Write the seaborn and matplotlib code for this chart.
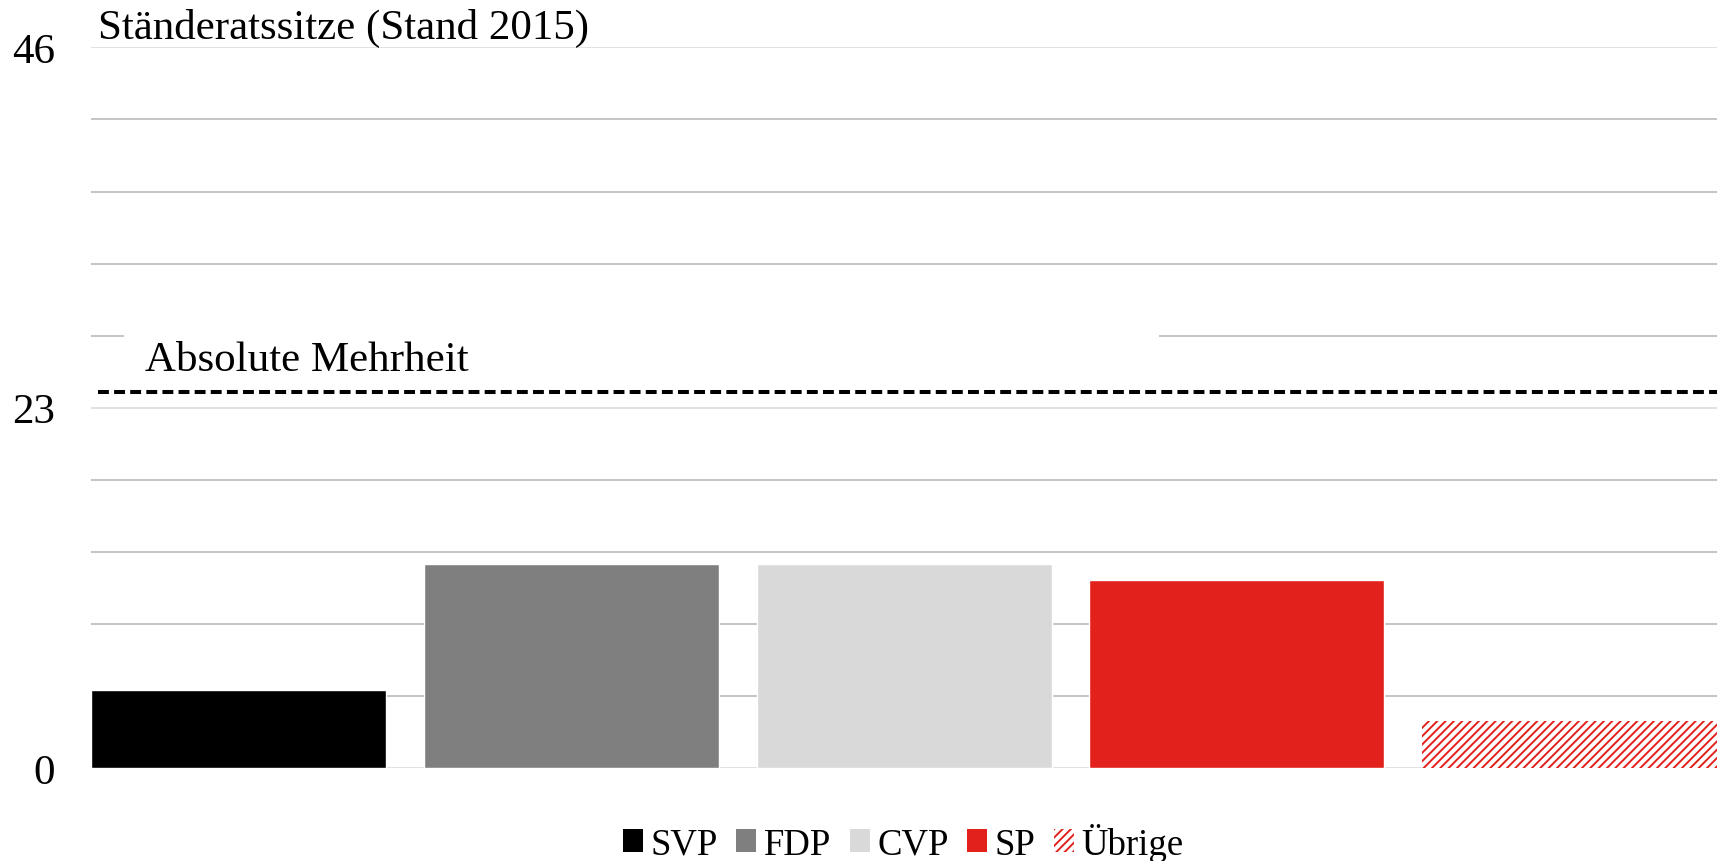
import matplotlib
matplotlib.use("Agg")
import matplotlib.pyplot as plt
import matplotlib.transforms as mtransforms
from matplotlib.patches import Rectangle, Patch
import seaborn as sns
import numpy as np
import pandas as pd

# ---- data ----
parties = ["SVP", "FDP", "CVP", "SP", "Übrige"]
seats = [5, 13, 13, 12, 3]
colors = ["#000000", "#7f7f7f", "#d9d9d9", "#e2211c", "#e2211c"]
total_seats = 46
majority = 24
tick_values = [0, 23, 46]
title_text = "Ständeratssitze (Stand 2015)"
majority_label = "Absolute Mehrheit"

sns.set_theme(style="white")
plt.rcParams["font.family"] = ["Liberation Serif", "DejaVu Serif"]
plt.rcParams["text.color"] = "black"
plt.rcParams["ytick.color"] = "black"
plt.rcParams["ytick.labelcolor"] = "black"
plt.rcParams["hatch.linewidth"] = 1.4

fig = plt.figure(figsize=(17.25, 8.62), dpi=100)
ax = fig.add_axes([0.0528, 0.1079, 0.9426, 0.8359])

df = pd.DataFrame({"party": parties, "seats": seats})
bar_w = 0.887
sns.barplot(data=df, x="party", y="seats", hue="party", palette=colors,
            width=bar_w, legend=False, ax=ax, zorder=3, saturation=1)

# hatched "Übrige"
last = ax.patches[-1]
last.set_facecolor("white")
last.set_hatch("////")
last.set_edgecolor(colors[-1])
last.set_linewidth(0)

ax.set_xlim(-bar_w / 2, len(parties) - 1 + bar_w / 2)
ax.set_ylim(0, total_seats)

# gridlines
ax.set_yticks(tick_values)
minor = [total_seats / 10 * i for i in range(1, 10) if i != 5]
ax.set_yticks(minor, minor=True)
ax.set_axisbelow(True)
ax.grid(axis="y", which="major", color="#d9d9d9", linewidth=1.1)
ax.grid(axis="y", which="minor", color="#b4b4b4", linewidth=1.1)
ax.tick_params(axis="y", which="both", length=0, labelsize=31, pad=26,
               labelcolor="black")
ax.tick_params(axis="x", length=0, labelbottom=False)
ax.set_xlabel("")
ax.set_ylabel("")
for s in ax.spines.values():
    s.set_visible(False)

# white label box interrupting gridline
trans = mtransforms.blended_transform_factory(ax.transAxes, ax.transData)
ax.add_patch(Rectangle((0.020, 26.6), 0.637, 2.0, transform=trans,
                       facecolor="white", edgecolor="none", zorder=1))

# majority line
ax.plot([0.004, 1.0], [majority, majority], transform=trans, color="black",
        linewidth=2.9, linestyle=(0, (2.7, 1.3)), zorder=4,
        solid_capstyle="butt", dash_capstyle="butt")
ax.text(0.033, majority + 0.85, majority_label, transform=trans,
        fontsize=31, ha="left", va="bottom", zorder=5, color="black")

# title
ax.text(0.004, 1.0, title_text, transform=ax.transAxes, fontsize=31,
        ha="left", va="bottom", color="black")

# legend
handles = []
for p, c in zip(parties, colors):
    if p == parties[-1]:
        handles.append(Patch(facecolor="white", edgecolor=c, hatch="////",
                             linewidth=0, label=p))
    else:
        handles.append(Patch(facecolor=c, edgecolor="none", label=p))
leg = fig.legend(handles=handles, loc="center", bbox_to_anchor=(0.5236, 0.022),
                 ncol=len(parties), frameon=False, fontsize=26.5,
                 handlelength=0.55, handleheight=0.55, handletextpad=0.2,
                 columnspacing=0.5, borderaxespad=0, borderpad=0)
for t in leg.get_texts():
    t.set_color("black")

fig.savefig("out.png", dpi=100, facecolor="white")
